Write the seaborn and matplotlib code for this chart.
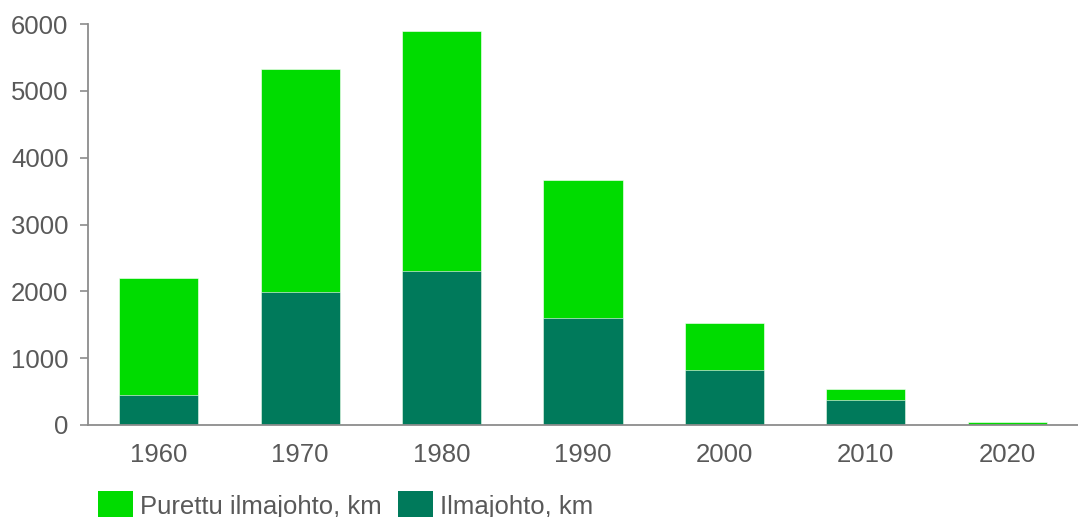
import matplotlib
matplotlib.use("Agg")
import matplotlib.pyplot as plt
import seaborn as sns
import pandas as pd
from matplotlib.patches import Patch

# Decades and line lengths (km)
vuosikymmen = ["1960", "1970", "1980", "1990", "2000", "2010", "2020"]
ilmajohto = [450, 1990, 2300, 1600, 820, 370, 5]
purettu = [1750, 3330, 3600, 2070, 710, 170, 40]

vaalea = "#00DC00"
tumma = "#007A5B"
teksti = "#595959"
akseli = "#8C8C8C"

sns.set_theme(style="white")
plt.rcParams["font.family"] = ["Liberation Sans", "DejaVu Sans"]

df = pd.DataFrame({
    "vuosi": vuosikymmen,
    "ilmajohto": ilmajohto,
    "yhteensa": [a + b for a, b in zip(ilmajohto, purettu)],
})

fig = plt.figure(figsize=(10.78, 5.17), dpi=100)
ax = fig.add_axes([88 / 1078, 1 - 425 / 517, (1078 - 88) / 1078, (425 - 24) / 517])

# Stacked bars: total (removed + remaining) behind, remaining on top
sns.barplot(data=df, x="vuosi", y="yhteensa", color=vaalea, saturation=1,
            width=0.56, ax=ax, edgecolor="white", linewidth=0.4)
sns.barplot(data=df, x="vuosi", y="ilmajohto", color=tumma, saturation=1,
            width=0.56, ax=ax, edgecolor="white", linewidth=0.4)

ax.set_xlim(-0.5, 6.5)
ax.set_ylim(0, 6000)
ax.set_yticks(range(0, 6001, 1000))
ax.set_xlabel("")
ax.set_ylabel("")

for side in ["top", "right"]:
    ax.spines[side].set_visible(False)
for side in ["left", "bottom"]:
    ax.spines[side].set_color(akseli)
    ax.spines[side].set_linewidth(1.3)

ax.tick_params(axis="y", which="major", direction="out", length=6, width=1.2,
               color=akseli, labelsize=18.5, labelcolor=teksti, pad=8, left=True)
ax.tick_params(axis="x", which="major", length=0, labelsize=18.5,
               labelcolor=teksti, pad=13)

handles = [Patch(facecolor=vaalea, edgecolor="none", label="Purettu ilmajohto, km"),
           Patch(facecolor=tumma, edgecolor="none", label="Ilmajohto, km")]
fig.legend(handles=handles, loc="upper left", bbox_to_anchor=(83 / 1078, 1 - 476 / 517),
           ncol=2, frameon=False, fontsize=18.5, labelcolor=teksti,
           handlelength=1.36, handleheight=1.3, handletextpad=0.27, columnspacing=0.62,
           borderaxespad=0.2)

fig.savefig("out.png", dpi=100)
